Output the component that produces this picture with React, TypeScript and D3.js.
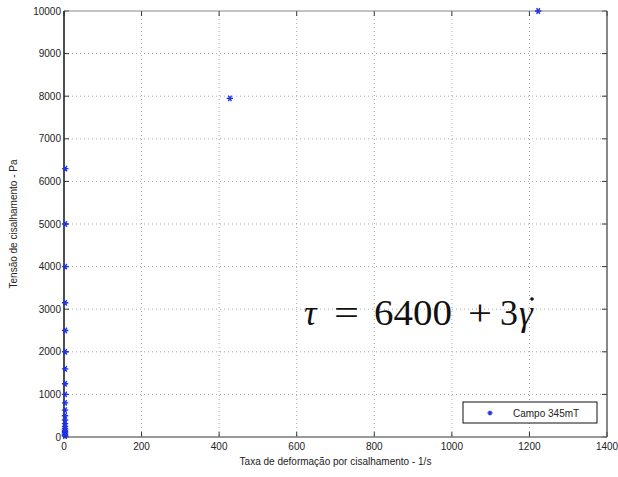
import React from 'react';
import * as d3 from 'd3';

// Campo 345mT: taxa de deformação (1/s) x tensão (Pa)
const rates = [1220, 425, 0.8, 0.6, 0.5, 0.4, 0.35, 0.3, 0.25, 0.2, 0.18, 0.15, 0.12, 0.1, 0.08, 0.06, 0.05, 0.04, 0.03, 0.02, 0.015, 0.01, 0.008, 0.005];
const stresses = [10000, 7950, 6300, 5000, 4000, 3150, 2500, 2000, 1600, 1250, 1000, 800, 630, 500, 400, 315, 250, 200, 160, 125, 100, 63, 40, 20];
const xTicks = [0, 200, 400, 600, 800, 1000, 1200, 1400];
const yTicks = [0, 1000, 2000, 3000, 4000, 5000, 6000, 7000, 8000, 9000, 10000];

const W = 618;
const H = 477;
const m = { left: 64, right: 607, top: 11, bottom: 437 };
const blue = '#2233dd';

const asterisk = (r: number) =>
  `M${-r},0L${r},0M${-r * 0.5},${-r * 0.87}L${r * 0.5},${r * 0.87}M${-r * 0.5},${r * 0.87}L${r * 0.5},${-r * 0.87}`;

const App = () => {
  const x = d3.scaleLinear().domain([0, 1400]).range([m.left, m.right]);
  const y = d3.scaleLinear().domain([0, 10000]).range([m.bottom, m.top]);
  const font = 'Liberation Sans, Arial, sans-serif';
  const serif = 'Liberation Serif, DejaVu Serif, serif';

  return (
    <svg width={W} height={H} style={{ position: 'absolute', left: 0, top: 0, background: '#fff' }}>
      <rect x={0} y={0} width={W} height={H} fill="#fff" />
      {/* grid */}
      <g stroke="#a8a8a8" strokeWidth={1} strokeDasharray="1,3">
        {xTicks.slice(1, -1).map(t => (
          <line key={'gx' + t} x1={x(t)} x2={x(t)} y1={m.top} y2={m.bottom} />
        ))}
        {yTicks.slice(1, -1).map(t => (
          <line key={'gy' + t} x1={m.left} x2={m.right} y1={y(t)} y2={y(t)} />
        ))}
      </g>
      {/* ticks */}
      <g stroke="#333" strokeWidth={1}>
        {xTicks.map(t => (
          <g key={'tx' + t}>
            <line x1={x(t)} x2={x(t)} y1={m.bottom} y2={m.bottom - 5} />
            <line x1={x(t)} x2={x(t)} y1={m.top} y2={m.top + 5} />
          </g>
        ))}
        {yTicks.map(t => (
          <g key={'ty' + t}>
            <line x1={m.left} x2={m.left + 5} y1={y(t)} y2={y(t)} />
            <line x1={m.right} x2={m.right - 5} y1={y(t)} y2={y(t)} />
          </g>
        ))}
      </g>
      {/* box */}
      <line x1={m.left} x2={m.right} y1={m.top} y2={m.top} stroke="#888" strokeWidth={1.2} />
      <line x1={m.left} x2={m.right} y1={m.bottom} y2={m.bottom} stroke="#777" strokeWidth={1.4} />
      <line x1={m.right} x2={m.right} y1={m.top} y2={m.bottom} stroke="#555" strokeWidth={1.4} />
      <line x1={m.left} x2={m.left} y1={m.top} y2={m.bottom} stroke="#222" strokeWidth={1.6} />
      {/* tick labels */}
      <g fontFamily={font} fontSize={10} fill="#222">
        {xTicks.map(t => (
          <text key={'lx' + t} x={x(t)} y={m.bottom + 13} textAnchor="middle">{t}</text>
        ))}
        {yTicks.map(t => (
          <text key={'ly' + t} x={m.left - 3} y={y(t) + 3.5} textAnchor="end">{t}</text>
        ))}
      </g>
      <text x={(m.left + m.right) / 2} y={465} textAnchor="middle" fontFamily={font} fontSize={10} fill="#222">
        Taxa de deformação por cisalhamento - 1/s
      </text>
      <text transform={`translate(17,${(m.top + m.bottom) / 2}) rotate(-90)`} textAnchor="middle" fontFamily={font} fontSize={10} fill="#222">
        Tensão de cisalhamento - Pa
      </text>
      {/* data */}
      <g stroke={blue} strokeWidth={1.4} fill="none">
        {rates.map((r, i) => (
          <path key={'p' + i} d={asterisk(3.2)} transform={`translate(${x(r) + 1},${y(stresses[i])})`} />
        ))}
      </g>
      {/* equation */}
      <g fontFamily={serif} fontSize={35} fill="#111">
        <text x={304} y={325} fontStyle="italic">τ</text>
        <text x={334} y={325} textLength={25} lengthAdjust="spacingAndGlyphs">=</text>
        <text x={374} y={325} textLength={78} lengthAdjust="spacingAndGlyphs">6400</text>
        <text x={468} y={325} textLength={24} lengthAdjust="spacingAndGlyphs">+</text>
        <text x={500} y={325} textLength={18} lengthAdjust="spacingAndGlyphs">3</text>
        <text x={519} y={325} fontStyle="italic">γ</text>
        <circle cx={532} cy={299} r={1.8} fill="#111" />
      </g>
      {/* legend */}
      <rect x={463} y={402} width={134} height={21} fill="#fff" stroke="#111" strokeWidth={1} />
      <path d={asterisk(2.5)} transform="translate(490,413)" stroke={blue} strokeWidth={1.3} fill="none" />
      <text x={513} y={416.5} fontFamily={font} fontSize={10} fill="#222">Campo 345mT</text>
    </svg>
  );
};

export default App;
